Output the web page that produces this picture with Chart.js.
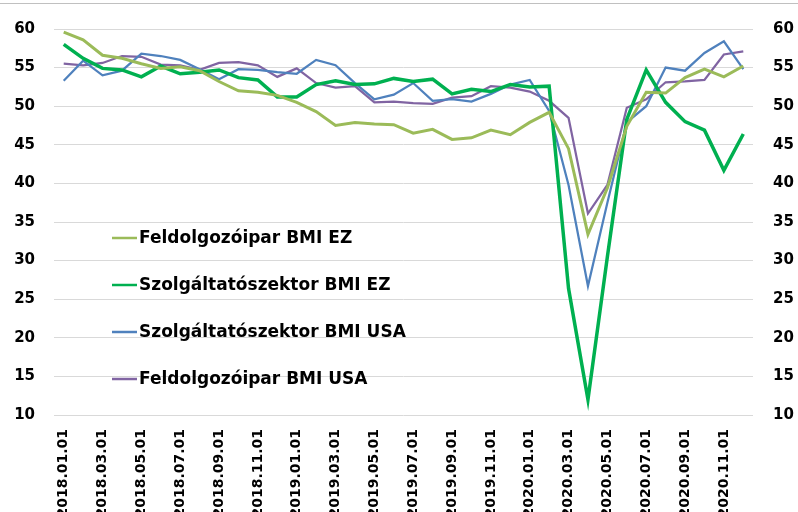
<!DOCTYPE html>
<html>
<head>
<meta charset="utf-8">
<script src="https://cdn.jsdelivr.net/npm/chart.js@4"></script>
<style>
  body { margin: 0; background: #fff; }
  canvas { display: block; }
</style>
</head>
<body>
<canvas id="bmiChart" width="798" height="512"></canvas>
<script>
  // Hónapok (kategóriák)
  const honapok = [
    '2018.01.01', '2018.02.01', '2018.03.01', '2018.04.01', '2018.05.01', '2018.06.01',
    '2018.07.01', '2018.08.01', '2018.09.01', '2018.10.01', '2018.11.01', '2018.12.01',
    '2019.01.01', '2019.02.01', '2019.03.01', '2019.04.01', '2019.05.01', '2019.06.01',
    '2019.07.01', '2019.08.01', '2019.09.01', '2019.10.01', '2019.11.01', '2019.12.01',
    '2020.01.01', '2020.02.01', '2020.03.01', '2020.04.01', '2020.05.01', '2020.06.01',
    '2020.07.01', '2020.08.01', '2020.09.01', '2020.10.01', '2020.11.01', '2020.12.01'
  ];

  // Sorozatok
  const feldolgozoEZ = [
    59.6, 58.6, 56.6, 56.2, 55.5, 54.9, 55.1, 54.6, 53.2, 52.0, 51.8, 51.4,
    50.5, 49.3, 47.5, 47.9, 47.7, 47.6, 46.5, 47.0, 45.7, 45.9, 46.9, 46.3,
    47.9, 49.2, 44.5, 33.4, 39.4, 47.4, 51.8, 51.7, 53.7, 54.8, 53.8, 55.2
  ];
  const szolgaltatoEZ = [
    58.0, 56.2, 54.9, 54.7, 53.8, 55.2, 54.2, 54.4, 54.7, 53.7, 53.4, 51.2,
    51.2, 52.8, 53.3, 52.8, 52.9, 53.6, 53.2, 53.5, 51.6, 52.2, 51.9, 52.8,
    52.5, 52.6, 26.4, 12.0, 30.5, 48.3, 54.7, 50.5, 48.0, 46.9, 41.7, 46.4
  ];
  const szolgaltatoUSA = [
    53.3, 55.9, 54.0, 54.6, 56.8, 56.5, 56.0, 54.8, 53.5, 54.8, 54.7, 54.4,
    54.2, 56.0, 55.3, 53.0, 50.9, 51.5, 53.0, 50.7, 50.9, 50.6, 51.6, 52.8,
    53.4, 49.4, 39.8, 26.7, 37.5, 47.9, 50.0, 55.0, 54.6, 56.9, 58.4, 54.8
  ];
  const feldolgozoUSA = [
    55.5, 55.3, 55.6, 56.5, 56.4, 55.4, 55.3, 54.7, 55.6, 55.7, 55.3, 53.8,
    54.9, 53.0, 52.4, 52.6, 50.5, 50.6, 50.4, 50.3, 51.1, 51.3, 52.6, 52.4,
    51.9, 50.7, 48.5, 36.1, 39.8, 49.8, 50.9, 53.1, 53.2, 53.4, 56.7, 57.1
  ];

  const tengelyBetu = { family: 'DejaVu Sans', weight: 'bold', size: 15 };

  // Felső szürke keretvonal
  const keretPlugin = {
    id: 'keret',
    beforeDraw(chart) {
      const ctx = chart.ctx;
      ctx.save();
      ctx.strokeStyle = '#c0c0c0';
      ctx.lineWidth = 1;
      ctx.beginPath();
      ctx.moveTo(0, 3.5);
      ctx.lineTo(chart.width, 3.5);
      ctx.stroke();
      ctx.restore();
    }
  };

  // Jelmagyarázat a rajzterületen belül
  const jelmagyarazatPlugin = {
    id: 'jelmagyarazat',
    afterDatasetsDraw(chart) {
      const ctx = chart.ctx;
      const sorok = [238, 285, 332, 379];
      ctx.save();
      chart.data.datasets.forEach((ds, i) => {
        const y = sorok[i];
        ctx.strokeStyle = ds.borderColor;
        ctx.lineWidth = 2.5;
        ctx.beginPath();
        ctx.moveTo(112, y);
        ctx.lineTo(137, y);
        ctx.stroke();
        ctx.fillStyle = '#000';
        ctx.font = 'bold 17px "DejaVu Sans"';
        ctx.textBaseline = 'middle';
        ctx.textAlign = 'left';
        ctx.fillText(ds.label, 139, y + 1);
      });
      ctx.restore();
    }
  };

  const ctx = document.getElementById('bmiChart');
  new Chart(ctx, {
    type: 'line',
    data: {
      labels: honapok,
      datasets: [
        { label: 'Feldolgozóipar BMI EZ', data: feldolgozoEZ, borderColor: '#9BBB59', borderWidth: 3 },
        { label: 'Szolgáltatószektor BMI EZ', data: szolgaltatoEZ, borderColor: '#00B050', borderWidth: 3.5 },
        { label: 'Szolgáltatószektor BMI USA', data: szolgaltatoUSA, borderColor: '#4F81BD', borderWidth: 2.25 },
        { label: 'Feldolgozóipar BMI USA', data: feldolgozoUSA, borderColor: '#8064A2', borderWidth: 2.25 }
      ].map(d => Object.assign(d, { pointRadius: 0, tension: 0, fill: false }))
    },
    options: {
      responsive: false,
      animation: false,
      layout: { padding: { top: 20, left: 0, right: 0, bottom: 0 } },
      plugins: {
        legend: { display: false },
        tooltip: { enabled: false }
      },
      scales: {
        x: {
          offset: true,
          grid: { display: false, drawTicks: false },
          border: { display: false },
          ticks: {
            autoSkip: false,
            minRotation: 90,
            maxRotation: 90,
            padding: 14,
            color: '#000',
            font: { family: 'DejaVu Sans', weight: 'bold', size: 14 },
            callback: function (v, i) {
              return i % 2 === 0 ? this.getLabelForValue(v) : '';
            }
          },
          afterFit(scale) { scale.height = 97; }
        },
        y: {
          position: 'left',
          min: 10,
          max: 60,
          grid: { color: '#d9d9d9', lineWidth: 1, drawTicks: false },
          border: { display: false },
          ticks: { stepSize: 5, padding: 19, color: '#000', font: tengelyBetu },
          afterFit(scale) { scale.width = 54; }
        },
        y2: {
          position: 'right',
          min: 10,
          max: 60,
          grid: { display: false, drawTicks: false },
          border: { display: false },
          ticks: { stepSize: 5, padding: 20, color: '#000', font: tengelyBetu },
          afterFit(scale) { scale.width = 45; }
        }
      }
    },
    plugins: [keretPlugin, jelmagyarazatPlugin]
  });
</script>
</body>
</html>
